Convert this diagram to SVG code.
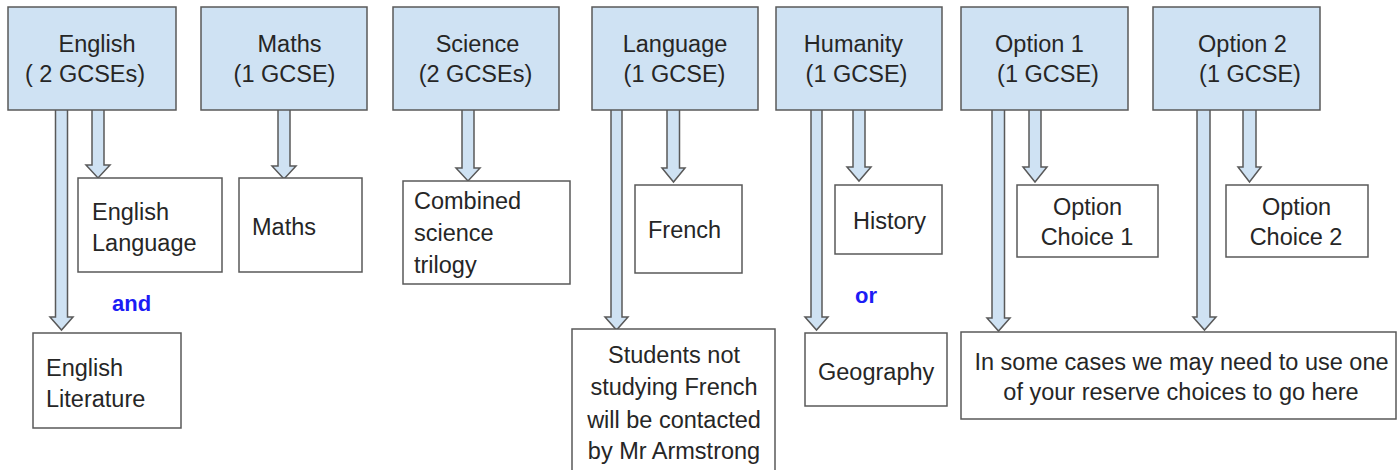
<svg xmlns="http://www.w3.org/2000/svg" width="1397" height="470" viewBox="0 0 1397 470">
<style>
.hdr{fill:#cfe2f3;stroke:#595959;stroke-width:1.5}
.box{fill:#ffffff;stroke:#595959;stroke-width:1.5}
.arr{fill:#cfe2f3;stroke:#595959;stroke-width:1.5;stroke-linejoin:miter}
text{font-family:"Liberation Sans",Arial,sans-serif;font-size:23.5px;fill:#262626}
.c{text-anchor:middle}
.kw{font-weight:bold;fill:#1c1cf5;font-size:22px}
</style>
<rect width="1397" height="470" fill="#ffffff"/>
<g id="connectors">
<path class="arr" d="M55.5,108 V317 H50 L61.5,330 L73,317 H67.5 V108 Z"/>
<path class="arr" d="M92,108 V165 H86 L98,178 L110,165 H104 V108 Z"/>
<path class="arr" d="M278,108 V166 H272 L284,179 L296,166 H290 V108 Z"/>
<path class="arr" d="M462,108 V168 H456 L468,181 L480,168 H474 V108 Z"/>
<path class="arr" d="M611,108 V317 H605 L616.5,330 L628,317 H622 V108 Z"/>
<path class="arr" d="M667,108 V168 H662 L673.5,182 L685,168 H679.5 V108 Z"/>
<path class="arr" d="M811,108 V317 H805 L816.5,330 L828,317 H822 V108 Z"/>
<path class="arr" d="M853,108 V167 H847 L859,181 L871,167 H865 V108 Z"/>
<path class="arr" d="M992,108 V318 H987 L998.5,331 L1010,318 H1004.5 V108 Z"/>
<path class="arr" d="M1029,108 V167 H1023 L1035,182 L1047,167 H1041 V108 Z"/>
<path class="arr" d="M1197,108 V317 H1193 L1204.5,330 L1216,317 H1210 V108 Z"/>
<path class="arr" d="M1243,108 V167 H1238 L1249.5,182 L1261,167 H1256 V108 Z"/>
</g>
<g id="english">
<rect class="hdr" x="8" y="7" width="168" height="103"/>
<text class="c" x="97" y="52">English</text>
<text class="c" x="85" y="82">( 2 GCSEs)</text>
</g>
<g id="maths">
<rect class="hdr" x="201" y="7" width="166" height="103"/>
<text class="c" x="289.5" y="52">Maths</text>
<text class="c" x="284.5" y="82">(1 GCSE)</text>
</g>
<g id="science">
<rect class="hdr" x="393" y="7" width="166" height="103"/>
<text class="c" x="477.5" y="52">Science</text>
<text class="c" x="475.5" y="82">(2 GCSEs)</text>
</g>
<g id="language">
<rect class="hdr" x="592" y="7" width="166" height="103"/>
<text class="c" x="675" y="52">Language</text>
<text class="c" x="674.5" y="82">(1 GCSE)</text>
</g>
<g id="humanity">
<rect class="hdr" x="776" y="7" width="166" height="103"/>
<text class="c" x="853.5" y="52">Humanity</text>
<text class="c" x="856.5" y="82">(1 GCSE)</text>
</g>
<g id="option1">
<rect class="hdr" x="961" y="7" width="167" height="103"/>
<text class="c" x="1039.5" y="52">Option 1</text>
<text class="c" x="1048" y="82">(1 GCSE)</text>
</g>
<g id="option2">
<rect class="hdr" x="1153" y="7" width="167" height="103"/>
<text class="c" x="1242.5" y="52">Option 2</text>
<text class="c" x="1250" y="82">(1 GCSE)</text>
</g>
<g id="english-language">
<rect class="box" x="78" y="178" width="144" height="94"/>
<text x="92" y="220">English</text>
<text x="92" y="251">Language</text>
</g>
<g id="maths-sub">
<rect class="box" x="239" y="178" width="123" height="94"/>
<text x="252" y="235">Maths</text>
</g>
<g id="combined-science">
<rect class="box" x="403" y="181" width="167" height="103"/>
<text x="414" y="209">Combined</text>
<text x="414" y="241">science</text>
<text x="414" y="273">trilogy</text>
</g>
<g id="french">
<rect class="box" x="635" y="185" width="107" height="88"/>
<text x="648" y="238">French</text>
</g>
<g id="history">
<rect class="box" x="835" y="185" width="107" height="69"/>
<text x="853" y="229">History</text>
</g>
<g id="option-choice-1">
<rect class="box" x="1017" y="185" width="141" height="72"/>
<text class="c" x="1087.5" y="215">Option</text>
<text class="c" x="1087" y="245">Choice 1</text>
</g>
<g id="option-choice-2">
<rect class="box" x="1226" y="185" width="142" height="72"/>
<text class="c" x="1296.5" y="215">Option</text>
<text class="c" x="1296" y="245">Choice 2</text>
</g>
<g id="and-label">
<text class="kw" x="112" y="311">and</text>
</g>
<g id="or-label">
<text class="kw" x="855" y="303">or</text>
</g>
<g id="english-literature">
<rect class="box" x="33" y="333" width="148" height="95"/>
<text x="46" y="376">English</text>
<text x="46" y="407">Literature</text>
</g>
<g id="students-note">
<rect class="box" x="572" y="329" width="203" height="160"/>
<text class="c" x="674" y="363">Students not</text>
<text class="c" x="674" y="395">studying French</text>
<text class="c" x="674" y="428">will be contacted</text>
<text class="c" x="674" y="459">by Mr Armstrong</text>
</g>
<g id="geography">
<rect class="box" x="805" y="333" width="142" height="73"/>
<text x="818" y="380">Geography</text>
</g>
<g id="reserve-note">
<rect class="box" x="961" y="332" width="435" height="87"/>
<text class="c" x="1181.5" y="370">In some cases we may need to use one</text>
<text class="c" x="1181" y="400">of your reserve choices to go here</text>
</g>
</svg>
